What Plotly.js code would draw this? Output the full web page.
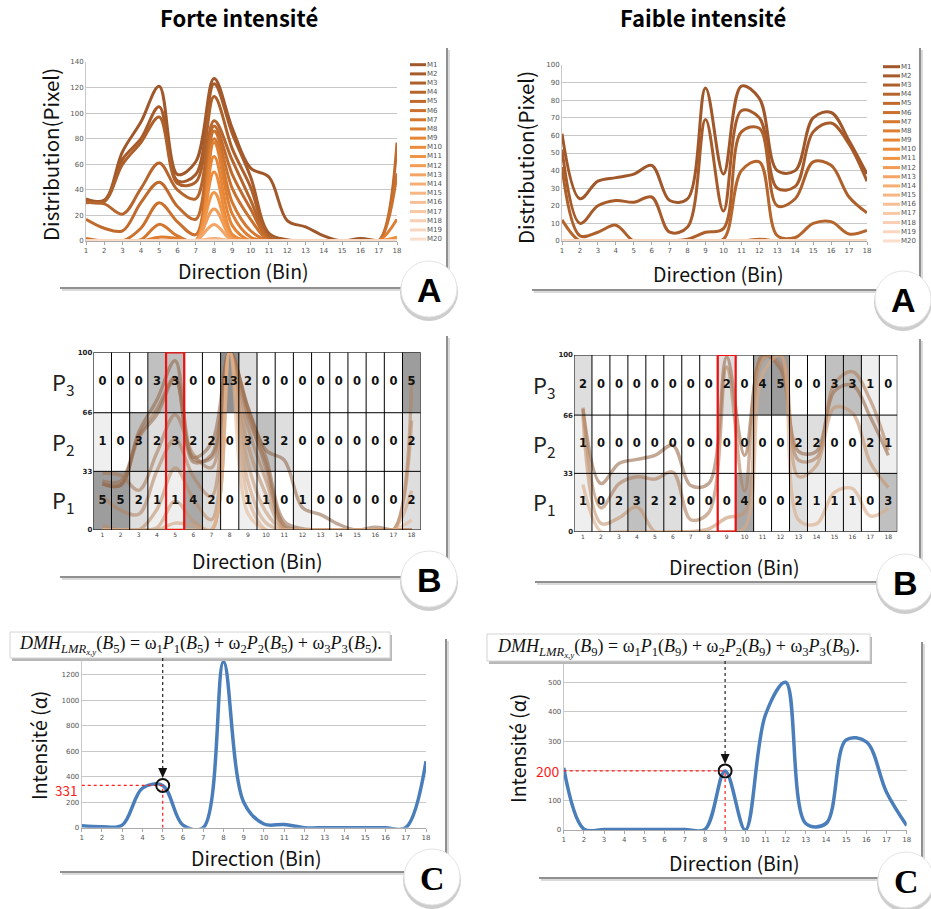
<!DOCTYPE html>
<html><head><meta charset="utf-8">
<script src="https://cdn.plot.ly/plotly-3.0.1.min.js"></script>
<style>html,body{margin:0;padding:0;background:#fff}#chart{width:931px;height:909px}</style>
</head><body><div id="chart"></div>
<script>
// ---------------- DATA ----------------
const bins = [1,2,3,4,5,6,7,8,9,10,11,12,13,14,15,16,17,18];
const seriesNames = ['M1','M2','M3','M4','M5','M6','M7','M8','M9','M10','M11','M12','M13','M14','M15','M16','M17','M18','M19','M20'];
const panelTitles = ['Forte intensité','Faible intensité'];

// Panel A, forte intensité : distribution (pixel) per bin, series M1..M20
const forteM1  = [33,32,70,93,121,52,62,127,88,57,50,16,11,4,0,2,0,0];
const forteM2  = [32,31,64,80,105,47,52,123,84,50,6,1,0,0,0,0,0,0];
const forteM3  = [31,31,60,77,97,45,46,113,72,42,3,0,0,0,0,0,0,0];
const forteM4  = [30,29,21,41,61,40,33,94,63,32,2,0,0,0,0,0,0,0];
const forteM5  = [17,10,8,30,46,27,17,90,52,25,1,0,0,0,0,0,0,77];
const forteM6  = [2,0,0,10,30,15,5,86,41,17,0,0,0,0,0,0,0,53];
const forteM7  = [0,0,0,1,13,4,0,80,30,8,0,0,0,0,0,0,0,0];
const forteM8  = [0,0,0,0,3,2,0,77,21,3,0,0,0,0,0,0,0,17];
const forteM9  = [0,0,0,0,0,0,0,66,12,0,0,0,0,0,0,0,0,0];
const forteM10 = [0,0,0,0,0,0,0,54,5,0,0,0,0,0,0,0,0,3];
const forteM11 = [0,0,0,0,0,0,0,38,2,0,0,0,0,0,0,0,0,0];
const forteM12 = [0,0,0,0,0,0,0,25,1,0,0,0,0,0,0,0,0,0];
const forteM13 = [0,0,0,0,0,0,0,13,0,0,0,0,0,0,0,0,0,0];
const forteM14 = [0,0,0,0,0,0,0,2,0,0,0,0,0,0,0,0,0,0];
const forteM15 = [0,0,0,0,0,0,0,1,0,0,0,0,0,0,0,0,0,0];
const forteM16 = [0,0,0,0,0,0,0,0,0,0,0,0,0,0,0,0,0,0];
const forteM17 = [0,0,0,0,0,0,0,0,0,0,0,0,0,0,0,0,0,0];
const forteM18 = [0,0,0,0,0,0,0,0,0,0,0,0,0,0,0,0,0,0];
const forteM19 = [0,0,0,0,0,0,0,0,0,0,0,0,0,0,0,0,0,0];
const forteM20 = [0,0,0,0,0,0,0,0,0,0,0,0,0,0,0,0,0,0];

// Panel A, faible intensité
const faibleM1  = [61,24,34,36,38,43,23,24,87,38,88,81,40,40,70,73,57,38];
const faibleM2  = [52,10,20,23,22,25,5,8,69,17,74,70,30,31,62,67,55,34];
const faibleM3  = [42,3,5,9,0,0,0,1,5,7,62,64,20,24,45,43,25,16];
const faibleM4  = [12,0,0,0,0,0,0,0,0,1,40,45,3,2,10,11,4,6];
const faibleM5  = [0,0,0,0,0,0,0,0,0,0,0,1,0,0,0,0,0,0];
const faibleM6  = [0,0,0,0,0,0,0,0,0,0,0,0,0,0,0,0,0,0];
const faibleM7  = [0,0,0,0,0,0,0,0,0,0,0,0,0,0,0,0,0,0];
const faibleM8  = [0,0,0,0,0,0,0,0,0,0,0,0,0,0,0,0,0,0];
const faibleM9  = [0,0,0,0,0,0,0,0,0,0,0,0,0,0,0,0,0,0];
const faibleM10 = [0,0,0,0,0,0,0,0,0,0,0,0,0,0,0,0,0,0];
const faibleM11 = [0,0,0,0,0,0,0,0,0,0,0,0,0,0,0,0,0,0];
const faibleM12 = [0,0,0,0,0,0,0,0,0,0,0,0,0,0,0,0,0,0];
const faibleM13 = [0,0,0,0,0,0,0,0,0,0,0,0,0,0,0,0,0,0];
const faibleM14 = [0,0,0,0,0,0,0,0,0,0,0,0,0,0,0,0,0,0];
const faibleM15 = [0,0,0,0,0,0,0,0,0,0,0,0,0,0,0,0,0,0];
const faibleM16 = [0,0,0,0,0,0,0,0,0,0,0,0,0,0,0,0,0,0];
const faibleM17 = [0,0,0,0,0,0,0,0,0,0,0,0,0,0,0,0,0,0];
const faibleM18 = [0,0,0,0,0,0,0,0,0,0,0,0,0,0,0,0,0,0];
const faibleM19 = [0,0,0,0,0,0,0,0,0,0,0,0,0,0,0,0,0,0];
const faibleM20 = [0,0,0,0,0,0,0,0,0,0,0,0,0,0,0,0,0,0];

// Panel B : counts per level (P1: 0-33, P2: 33-66, P3: 66-100)
const levelEdges = [0,33,66,100];
const levelNames = ['P<sub>1</sub>','P<sub>2</sub>','P<sub>3</sub>'];
const forteP1 = [5,5,2,1,1,4,2,0,1,1,0,1,0,0,0,0,0,2];
const forteP2 = [1,0,3,2,3,2,2,0,3,3,2,0,0,0,0,0,0,2];
const forteP3 = [0,0,0,3,3,0,0,13,2,0,0,0,0,0,0,0,0,5];
const faibleP1 = [1,0,2,3,2,2,0,0,0,4,0,0,2,1,1,1,0,3];
const faibleP2 = [1,0,0,0,0,0,0,0,0,0,0,0,2,2,0,0,2,1];
const faibleP3 = [2,0,0,0,0,0,0,0,2,0,4,5,0,0,3,3,1,0];

// Panel C : intensité (α)
const forteIntensity  = [15,8,20,310,331,20,0,1300,200,29,25,0,0,0,0,0,0,520];
const faibleIntensity = [210,3,2,2,2,2,2,2,200,0,390,500,22,22,305,298,128,15];
const forteHighlight  = {bin:5, value:331};
const faibleHighlight = {bin:9, value:200};

// ---------------- STYLE / LAYOUT ----------------
const forteSeries = [forteM1,forteM2,forteM3,forteM4,forteM5,forteM6,forteM7,forteM8,forteM9,forteM10,forteM11,forteM12,forteM13,forteM14,forteM15,forteM16,forteM17,forteM18,forteM19,forteM20];
const faibleSeries = [faibleM1,faibleM2,faibleM3,faibleM4,faibleM5,faibleM6,faibleM7,faibleM8,faibleM9,faibleM10,faibleM11,faibleM12,faibleM13,faibleM14,faibleM15,faibleM16,faibleM17,faibleM18,faibleM19,faibleM20];
const palette = ['#a0572a','#a75b2a','#ae602b','#b6652c','#c06b2d','#ca712e','#d4772f','#de7e32','#e68536','#ec8b3c','#f09445','#f29c55','#f4a565','#f5ae75','#f6b785','#f7bf95','#f8c7a4','#f9cfb3','#fad6c0','#fbddcb'];
const tanPalette = ['#8f6446','#94684a','#9b6e4f','#a57756','#b0805e','#bb8a66','#c6956f','#d0a07a','#dbab86','#e4b792'];

const W = 931, H = 909;
const X = p => p / W;
const Y = p => 1 - p / H;
const FONT = '"Noto Sans CJK JP", "Noto Sans", sans-serif';
const SERIF = '"Liberation Serif", "DejaVu Serif", serif';

const traces = [];
const line = (x, y, xa, ya, color, width, extra) => Object.assign({
  type:'scatter', mode:'lines', x:x, y:y, xaxis:xa, yaxis:ya,
  line:{shape:'spline', smoothing:1, width:width, color:color},
  hoverinfo:'skip', showlegend:false}, extra || {});

// A panels
forteSeries.forEach((s,i)=>traces.push(line(bins, s, 'x', 'y', palette[i], 3)));
faibleSeries.forEach((s,i)=>traces.push(line(bins, s, 'x2', 'y2', palette[i], 3)));

// B panels
const edges = bins.map(b => b - 0.5).concat([bins[bins.length-1] + 0.5]);
const grayScale = [[0,'#ffffff'],[1/6,'#efefef'],[2/6,'#dedede'],[3/6,'#c0c0c0'],[4/6,'#a9a9a9'],[5/6,'#9d9d9d'],[1,'#8f8f8f']];
const heat = (z, xa, ya) => ({
  type:'heatmap', x:edges, y:levelEdges, z:z, xaxis:xa, yaxis:ya,
  colorscale:grayScale, zmin:0, zmax:6, showscale:false, hoverinfo:'skip'});
traces.push(heat([forteP1, forteP2, forteP3], 'x3', 'y3'));
traces.push(heat([faibleP1, faibleP2, faibleP3], 'x4', 'y4'));
const norm = s => { const m = Math.max(...s); return s.map(v => v / m * 100); };
forteSeries.slice(0,10).forEach((s,i)=>traces.push(line(bins, norm(s), 'x3', 'y3', tanPalette[i], 3.4, {opacity:0.55})));
faibleSeries.slice(0,4).forEach((s,i)=>traces.push(line(bins, norm(s), 'x4', 'y4', tanPalette[i*2+2], 3.4, {opacity:0.6})));
// cell counts, drawn on top of the curves
const cellText = (rows, xa, ya) => rows.forEach((row, k) => traces.push({
  type:'scatter', mode:'text', x:bins, y:bins.map(() => (levelEdges[k] + levelEdges[k+1]) / 2), text:row.map(String),
  xaxis:xa, yaxis:ya, hoverinfo:'skip', showlegend:false, cliponaxis:false,
  textfont:{family:'"DejaVu Sans", sans-serif', size:11.5, color:'#111', weight:'bold'}}));
cellText([forteP1, forteP2, forteP3], 'x3', 'y3');
cellText([faibleP1, faibleP2, faibleP3], 'x4', 'y4');

// C panels
traces.push(line(bins, forteIntensity, 'x5', 'y5', '#4a7ebb', 3.5));
traces.push(line(bins, faibleIntensity, 'x6', 'y6', '#4a7ebb', 3.5));

// axes
const tickF = {size:7, color:'#555', family:'"DejaVu Sans", sans-serif'};
const xLine = (l, r, anchor) => ({domain:[X(l), X(r)], anchor:anchor, range:[1,18], tickvals:bins,
  ticks:'outside', ticklen:3, tickcolor:'#aaa', showline:true, linecolor:'#aaa', showgrid:false,
  zeroline:false, tickfont:tickF, fixedrange:true});
const yLine = (top, bottom, anchor, range, tv, tt) => ({domain:[Y(bottom), Y(top)], anchor:anchor, range:range,
  tickvals:tv, ticktext:tt, ticks:'', showline:true, linecolor:'#c8c8c8', gridcolor:'#c8c8c8', gridwidth:1,
  zeroline:false, tickfont:tickF, fixedrange:true});
const range = (a, b, s) => { const r = []; for (let v = a; v <= b; v += s) r.push(v); return r; };
const xCell = (l, r, anchor) => ({domain:[X(l), X(r)], anchor:anchor, range:[0.5,18.5], tickvals:bins,
  ticks:'', showline:false, showgrid:false, zeroline:false, tickfont:{size:6, color:'#444', family:'"DejaVu Sans", sans-serif'}, fixedrange:true});
const yCell = (top, bottom, anchor) => ({domain:[Y(bottom), Y(top)], anchor:anchor, range:[0,100],
  tickvals:levelEdges, ticks:'', showline:false, showgrid:false, zeroline:false,
  tickfont:{size:7, color:'#222', family:'"DejaVu Sans", sans-serif', weight:'bold'}, fixedrange:true});

const c5 = range(0,1400,200), c6 = range(0,600,100);
const layout = {
  width:W, height:H, autosize:false, margin:{l:0,r:0,t:0,b:0},
  paper_bgcolor:'#ffffff', plot_bgcolor:'rgba(0,0,0,0)', showlegend:false,
  xaxis: xLine(86, 397, 'y'),
  yaxis: yLine(62, 241, 'x', [0,140], range(0,140,20)),
  xaxis2: xLine(562, 867, 'y2'),
  yaxis2: yLine(65, 241, 'x2', [0,100], range(0,100,10)),
  xaxis3: xCell(93.3, 420.7, 'y3'),
  yaxis3: yCell(352.3, 530, 'x3'),
  xaxis4: xCell(574, 897.3, 'y4'),
  yaxis4: yCell(355, 531.7, 'x4'),
  xaxis5: xLine(81.7, 426, 'y5'),
  yaxis5: yLine(649, 827.7, 'x5', [0,1400], c5, c5.map(v => v === 1400 ? '' : String(v))),
  xaxis6: xLine(563.7, 906.7, 'y6'),
  // the highlighted value label replaces the matching tick label
  yaxis6: yLine(652.7, 830, 'x6', [0,600], c6, c6.map(v => (v === 600 || v === faibleHighlight.value) ? '' : String(v))),
  shapes:[], annotations:[]
};
const S = layout.shapes, A = layout.annotations;

// cards with shadows
const card = (x0, y0, x1, y1) => {
  S.push({type:'rect', xref:'paper', yref:'paper', x0:X(x0+4), x1:X(x1+4), y0:Y(y1+4), y1:Y(y0+4), fillcolor:'#dadada', line:{width:0}, layer:'below'});
  S.push({type:'rect', xref:'paper', yref:'paper', x0:X(x0+2), x1:X(x1+2), y0:Y(y1+2), y1:Y(y0+2), fillcolor:'#909090', line:{width:0}, layer:'below'});
  S.push({type:'rect', xref:'paper', yref:'paper', x0:X(x0), x1:X(x1), y0:Y(y1), y1:Y(y0), fillcolor:'#ffffff', line:{width:0}, layer:'below'});
};
card(58, 46, 446, 287); card(530, 46, 919, 289);
card(58, 334, 446, 576); card(533, 337, 919, 581);
card(58, 637, 445, 871); card(537, 640, 921, 877);

// cell borders in panel B
[['x3','y3'],['x4','y4']].forEach(([xa,ya]) => {
  edges.forEach(e => S.push({type:'line', xref:xa, yref:ya, x0:e, x1:e, y0:0, y1:100, line:{color:'#000', width:1}}));
  levelEdges.forEach(e => S.push({type:'line', xref:xa, yref:ya, x0:0.5, x1:18.5, y0:e, y1:e, line:{color:'#000', width:1}}));
});
// red selection boxes
S.push({type:'rect', xref:'x3', yref:'y3', x0:forteHighlight.bin-0.5, x1:forteHighlight.bin+0.5, y0:0, y1:100, line:{color:'#ee1111', width:2.2}});
S.push({type:'rect', xref:'x4', yref:'y4', x0:faibleHighlight.bin-0.5, x1:faibleHighlight.bin+0.5, y0:0, y1:100, line:{color:'#ee1111', width:2.2}});

// level labels
[['x3','y3',63],['x4','y4',544]].forEach(([xa,ya,px]) => {
  levelNames.forEach((n,i) => A.push({xref:'paper', yref:ya, x:X(px), y:(levelEdges[i]+levelEdges[i+1])/2,
    text:n, showarrow:false, font:{size:22, family:FONT, color:'#222'}, xanchor:'center', yanchor:'middle'}));
});

// legends for panel A
const legend = (lx0, lx1, y0, step) => seriesNames.forEach((n,i) => {
  const yy = y0 + i*step;
  S.push({type:'line', xref:'paper', yref:'paper', x0:X(lx0), x1:X(lx1), y0:Y(yy), y1:Y(yy), line:{color:palette[i], width:3}});
  A.push({xref:'paper', yref:'paper', x:X(lx1-1), y:Y(yy), text:n, showarrow:false, xanchor:'left', yanchor:'middle',
    font:{size:7, color:'#555', family:'"DejaVu Sans", sans-serif'}});
});
legend(410, 426, 64.7, 9.18);
legend(883, 900, 66.7, 9.17);

// formula boxes, arrows, highlights in panel C
const formula = b => `<i>DMH</i><sub><i>LMR</i><sub><i>x,y</i></sub></sub>(<i>B</i><sub>${b}</sub>) = ω<sub>1</sub><i>P</i><sub>1</sub>(<i>B</i><sub>${b}</sub>) + ω<sub>2</sub><i>P</i><sub>2</sub>(<i>B</i><sub>${b}</sub>) + ω<sub>3</sub><i>P</i><sub>3</sub>(<i>B</i><sub>${b}</sub>).`;
const highlight = (xa, ya, h, box, tipY, labelX, labelShift, labelSize) => {
  S.push({type:'rect', xref:'paper', yref:'paper', x0:X(box[0]+2), x1:X(box[2]+2), y0:Y(box[3]+3), y1:Y(box[1]+3), fillcolor:'#b8b8b8', line:{width:0}});
  S.push({type:'rect', xref:'paper', yref:'paper', x0:X(box[0]), x1:X(box[2]), y0:Y(box[3]), y1:Y(box[1]), fillcolor:'#ffffff', line:{color:'#d4d4d4', width:1}});
  A.push({xref:'paper', yref:'paper', x:X((box[0]+box[2])/2), y:Y((box[1]+box[3])/2), text:formula(h.bin), showarrow:false,
    xanchor:'center', yanchor:'middle', font:{size:18, family:SERIF, color:'#111'}});
  S.push({type:'line', xref:xa, yref:'paper', x0:h.bin, x1:h.bin, y0:Y(box[3]), y1:Y(tipY-9), line:{color:'#222', width:1.2, dash:'dot'}});
  S.push({type:'path', xref:xa, yref:'paper', xsizemode:'pixel', xanchor:h.bin,
    path:`M -4.5,${Y(tipY-10)} L 4.5,${Y(tipY-10)} L 0,${Y(tipY)} Z`, fillcolor:'#111', line:{width:0}});
  S.push({type:'line', xref:xa, yref:ya, x0:1, x1:h.bin, y0:h.value, y1:h.value, line:{color:'#ff1a1a', width:1.2, dash:'dot'}});
  S.push({type:'line', xref:xa, yref:ya, x0:h.bin, x1:h.bin, y0:0, y1:h.value, line:{color:'#ff1a1a', width:1.2, dash:'dot'}});
  S.push({type:'circle', xref:xa, yref:ya, xsizemode:'pixel', ysizemode:'pixel', xanchor:h.bin, yanchor:h.value,
    x0:-6.5, x1:6.5, y0:-6.5, y1:6.5, line:{color:'#111', width:2}});
  A.push({xref:'paper', yref:ya, x:X(labelX), y:h.value, yshift:labelShift, text:String(h.value), showarrow:false, xanchor:'right', yanchor:'middle',
    font:{size:labelSize, color:'#ff1a1a', family:FONT}});
};
highlight('x5', 'y5', forteHighlight, [10, 632, 390, 658], 778, 79, -4.5, 13.5);
highlight('x6', 'y6', faibleHighlight, [487, 634, 870, 661], 764, 562, 0, 14);

// titles
A.push({xref:'paper', yref:'paper', x:X(239), y:Y(17), text:'<b>'+panelTitles[0]+'</b>', showarrow:false, xanchor:'center', yanchor:'middle', font:{size:22, family:FONT, color:'#000'}});
A.push({xref:'paper', yref:'paper', x:X(703), y:Y(17), text:'<b>'+panelTitles[1]+'</b>', showarrow:false, xanchor:'center', yanchor:'middle', font:{size:22, family:FONT, color:'#000'}});
const axTitle = (t, x, y, ang, sz) => A.push({xref:'paper', yref:'paper', x:X(x), y:Y(y), text:t, showarrow:false, textangle:ang||0,
  font:{size:sz||19.5, family:FONT, color:'#111'}, xanchor:'center', yanchor:'middle'});
axTitle('Distribution(Pixel)', 50, 155, -90, 20.5); axTitle('Distribution(Pixel)', 525, 158, -90, 20.5);
axTitle('Direction (Bin)', 243, 270); axTitle('Direction (Bin)', 718, 274);
axTitle('Direction (Bin)', 257, 560); axTitle('Direction (Bin)', 734, 566);
axTitle('Direction (Bin)', 256, 857); axTitle('Direction (Bin)', 734, 862);
axTitle('Intensité (α)', 38, 746, -90); axTitle('Intensité (α)', 517, 749, -90);

// circular panel labels
const badge = (cx, cy, letter, fam) => {
  const r = 28;
  S.push({type:'circle', xref:'paper', yref:'paper', x0:X(cx-r-1), x1:X(cx+r+1), y0:Y(cy+r+4), y1:Y(cy-r+2), fillcolor:'#cdcdcd', line:{width:0}});
  S.push({type:'circle', xref:'paper', yref:'paper', x0:X(cx-r), x1:X(cx+r), y0:Y(cy+r), y1:Y(cy-r), fillcolor:'#ffffff', line:{color:'#e4e4e4', width:1}});
  A.push({xref:'paper', yref:'paper', x:X(cx), y:Y(cy+1), text:'<b>'+letter+'</b>', showarrow:false, xanchor:'center', yanchor:'middle',
    font:{size:34, family:fam, color:'#000'}});
};
const SANS_B = '"Liberation Sans", Arial, sans-serif';
badge(429, 289, 'A', SANS_B); badge(903, 299, 'A', SANS_B);
badge(429, 579, 'B', SANS_B); badge(905, 582, 'B', SANS_B);
badge(432, 877, 'C', SERIF); badge(906, 880, 'C', SERIF);

Plotly.newPlot('chart', traces, layout, {staticPlot:true, displayModeBar:false});
</script></body></html>
